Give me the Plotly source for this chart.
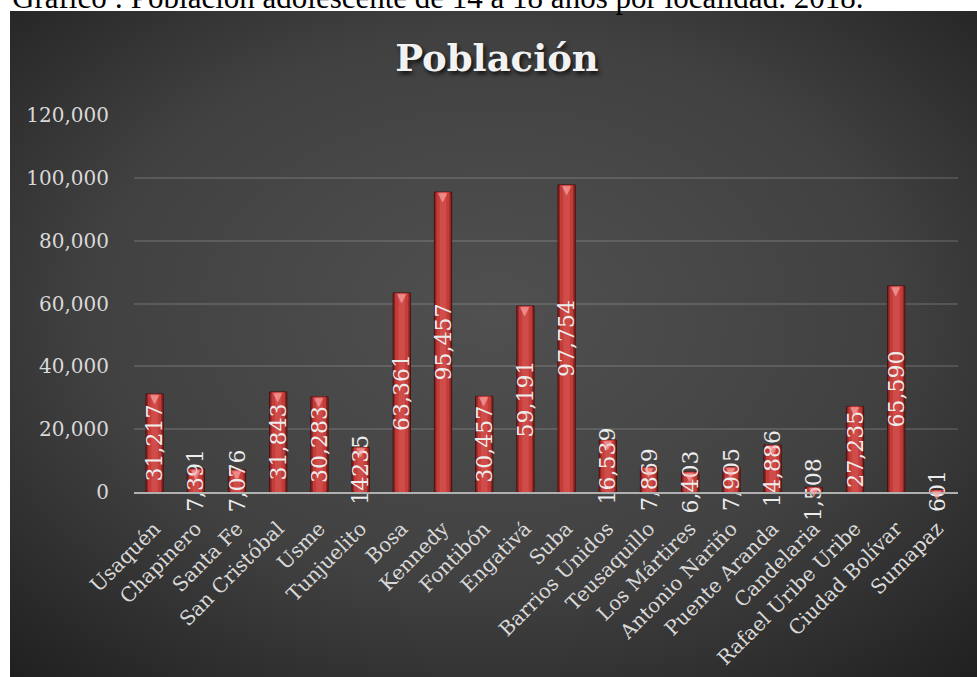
import base64
import plotly.graph_objects as go

localidades = ["Usaquén", "Chapinero", "Santa Fe", "San Cristóbal", "Usme", "Tunjuelito",
               "Bosa", "Kennedy", "Fontibón", "Engativá", "Suba", "Barrios Unidos",
               "Teusaquillo", "Los Mártires", "Antonio Nariño", "Puente Aranda",
               "Candelaria", "Rafael Uribe Uribe", "Ciudad Bolívar", "Sumapaz"]
poblacion = [31217, 7391, 7076, 31843, 30283, 14235, 63361, 95457, 30457, 59191,
             97754, 16539, 7869, 6403, 7905, 14886, 1508, 27235, 65590, 601]
etiquetas = ["31,217", "7,391", "7,076", "31,843", "30,283", "14235", "63,361", "95,457",
             "30,457", "59,191", "97,754", "16,539", "7,869", "6,403", "7,905", "14,886",
             "1,508", "27,235", "65,590", "601"]
y_ticks = [0, 20000, 40000, 60000, 80000, 100000, 120000]

W, H = 977, 677
L, R, T, B = 134, 958, 115, 492
pw, ph = R - L, B - T
BX0, BY0 = 10, 11   # dark panel top-left

svg = ('<svg xmlns="http://www.w3.org/2000/svg" width="967" height="666" viewBox="0 0 967 666" '
       'preserveAspectRatio="none"><defs><radialGradient id="g" cx="50%" cy="45%" r="75%">'
       '<stop offset="0" stop-color="#505050"/><stop offset="0.55" stop-color="#414141"/>'
       '<stop offset="1" stop-color="#1f1f1f"/></radialGradient></defs>'
       '<rect width="967" height="666" fill="url(#g)"/></svg>')
bg_uri = "data:image/svg+xml;base64," + base64.b64encode(svg.encode()).decode()

fig = go.Figure()
fig.add_trace(go.Bar(x=localidades, y=poblacion, width=0.42,
                     marker=dict(color="#8f2624", line=dict(color="#4a1212", width=1)),
                     hoverinfo="skip", cliponaxis=False))
fig.add_trace(go.Bar(x=localidades, y=poblacion, width=0.32,
                     marker=dict(color="#c23c39", line=dict(width=0)),
                     hoverinfo="skip", cliponaxis=False))
fig.add_trace(go.Bar(x=localidades, y=poblacion, width=0.16,
                     marker=dict(color="#cf4c49", line=dict(width=0)),
                     text=etiquetas, textposition="inside", insidetextanchor="middle",
                     textangle=-90,
                     insidetextfont=dict(family="DejaVu Serif", size=22, color="#ececec"),
                     cliponaxis=False))

for cat, val in zip(localidades, poblacion):
    fig.add_annotation(x=cat, y=val, xref="x", yref="y", text="▼", showarrow=False,
                       yanchor="top", yshift=4,
                       font=dict(family="DejaVu Sans", size=12, color="rgba(255,175,175,0.65)"))

fig.add_annotation(xref="paper", yref="paper", x=(BX0 - L) / pw, y=(B - 17) / ph,
                   xanchor="left", yanchor="bottom", showarrow=False,
                   text="Gráfico : Población adolescente de 14 a 18 años por localidad. 2018.",
                   font=dict(family="Liberation Serif", size=31, color="black"))

fig.add_layout_image(source=bg_uri, xref="paper", yref="paper",
                     x=(BX0 - L) / pw, y=(B - BY0) / ph,
                     sizex=(W - BX0) / pw, sizey=(H - BY0) / ph,
                     xanchor="left", yanchor="top", sizing="stretch", layer="below")

fig.update_layout(
    width=W, height=H,
    margin=dict(l=L, r=W - R, t=T, b=H - B, pad=0),
    paper_bgcolor="white", plot_bgcolor="rgba(0,0,0,0)",
    barmode="overlay", showlegend=False,
    uniformtext=dict(minsize=22, mode="show"),
    title=dict(text="Población", x=497 / W, xanchor="center", xref="container",
               y=1 - 58 / H, yanchor="middle", yref="container",
               font=dict(family="DejaVu Serif", size=37, color="#f2f2f2", weight="bold",
                         shadow="2px 3px 4px rgba(0,0,0,0.75)")),
    xaxis=dict(showgrid=False, showline=True, linecolor="#b0b0b0", linewidth=2,
               automargin=False,
               tickangle=-45, ticks="outside", ticklen=15, tickcolor="rgba(0,0,0,0)",
               tickfont=dict(family="DejaVu Serif", size=20, color="#d9d9d9")),
    yaxis=dict(range=[0, 120000], tickvals=y_ticks, tickformat=",",
               automargin=False,
               showgrid=True, gridcolor="rgba(255,255,255,0.13)", gridwidth=1.5,
               zeroline=False, showline=False,
               ticks="outside", ticklen=20, tickcolor="rgba(0,0,0,0)",
               tickfont=dict(family="DejaVu Serif", size=20, color="#d9d9d9")),
)

fig.write_html("out.html", config={"displayModeBar": False},
               post_script="document.body.style.margin='0px';")
